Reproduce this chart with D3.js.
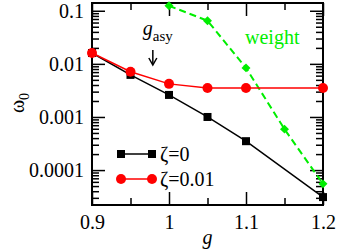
<!DOCTYPE html>
<html>
<head>
<meta charset="utf-8">
<script src="https://cdn.jsdelivr.net/npm/d3@7"></script>
<style>
  html, body { margin: 0; padding: 0; background: #fff; }
</style>
</head>
<body>
<div id="chart"></div>
<script>
// data
const gZeta0 = [0.9, 0.95, 1.0, 1.05, 1.1, 1.2];
const omegaZeta0 = [0.016, 0.0062, 0.0026, 0.001, 0.00035, 0.000031];
const gZeta001 = [0.9, 0.95, 1.0, 1.05, 1.1, 1.2];
const omegaZeta001 = [0.016, 0.0071, 0.0042, 0.0035, 0.0035, 0.0035];
const gWeight = [1.0, 1.05, 1.1, 1.15, 1.2];
const weight = [0.124, 0.065, 0.0084, 0.00059, 0.000055];
const xMajor = [0.9, 1.0, 1.1, 1.2];
const xMinor = [0.95, 1.05, 1.15];
const yMajor = [0.1, 0.01, 0.001, 0.0001];
const yLabels = ['0.1', '0.01', '0.001', '0.0001'];
const gAsy = 0.979;

const serif = "'Times New Roman', Times, 'Liberation Serif', 'Noto Serif', 'DejaVu Serif', 'FreeSerif', serif";
const width = 338, height = 251;
const margin = { top: 3, right: 15, bottom: 46, left: 92 };

const svg = d3.select('#chart').append('svg')
  .attr('width', width)
  .attr('height', height)
  .style('font-family', serif);

const x = d3.scaleLinear()
  .domain([0.9, 1.2])
  .range([margin.left, width - margin.right]);

const y = d3.scaleLog()
  .domain([2.2e-5, 0.14])
  .range([height - margin.bottom, margin.top]);

// minor log ticks 2..9 in every decade inside the domain
const yMinor = [];
for (let e = -5; e <= -1; e++) {
  for (let k = 2; k <= 9; k++) {
    const v = k * Math.pow(10, e);
    if (v > y.domain()[0] && v < y.domain()[1]) yMinor.push(v);
  }
}

function styleAxis(g) {
  g.attr('font-family', null);
  g.selectAll('.domain').remove();
  g.selectAll('.tick line').attr('stroke', '#000').attr('stroke-width', 1.5);
  g.selectAll('.tick text').attr('font-size', 20).attr('fill', '#000');
}

const bottomY = height - margin.bottom;
const rightX = width - margin.right;

// x axis (bottom + mirrored top)
svg.append('g').attr('transform', `translate(0,${bottomY})`)
  .call(d3.axisBottom(x).tickValues(xMajor).tickSizeInner(-13).tickSizeOuter(0).tickPadding(10)
    .tickFormat(d3.format('~g')))
  .call(styleAxis);
svg.append('g').attr('transform', `translate(0,${bottomY})`)
  .call(d3.axisBottom(x).tickValues(xMinor).tickSizeInner(-7).tickSizeOuter(0).tickFormat(''))
  .call(styleAxis);
svg.append('g').attr('transform', `translate(0,${margin.top})`)
  .call(d3.axisTop(x).tickValues(xMajor).tickSizeInner(-13).tickSizeOuter(0).tickFormat(''))
  .call(styleAxis);
svg.append('g').attr('transform', `translate(0,${margin.top})`)
  .call(d3.axisTop(x).tickValues(xMinor).tickSizeInner(-7).tickSizeOuter(0).tickFormat(''))
  .call(styleAxis);

// y axis (left + mirrored right)
svg.append('g').attr('transform', `translate(${margin.left},0)`)
  .call(d3.axisLeft(y).tickValues(yMajor).tickSizeInner(-13).tickSizeOuter(0).tickPadding(8)
    .tickFormat((d, i) => yLabels[i]))
  .call(styleAxis);
svg.append('g').attr('transform', `translate(${margin.left},0)`)
  .call(d3.axisLeft(y).tickValues(yMinor).tickSizeInner(-7).tickSizeOuter(0).tickFormat(''))
  .call(styleAxis);
svg.append('g').attr('transform', `translate(${rightX},0)`)
  .call(d3.axisRight(y).tickValues(yMajor).tickSizeInner(-13).tickSizeOuter(0).tickFormat(''))
  .call(styleAxis);
svg.append('g').attr('transform', `translate(${rightX},0)`)
  .call(d3.axisRight(y).tickValues(yMinor).tickSizeInner(-7).tickSizeOuter(0).tickFormat(''))
  .call(styleAxis);

// frame
svg.append('rect')
  .attr('x', margin.left).attr('y', margin.top)
  .attr('width', rightX - margin.left).attr('height', bottomY - margin.top)
  .attr('fill', 'none').attr('stroke', '#000').attr('stroke-width', 2);

const line = d3.line().x(d => x(d[0])).y(d => y(d[1]));

// weight (green dashed, diamonds)
const weightPts = gWeight.map((g, i) => [g, weight[i]]);
svg.append('path').datum(weightPts)
  .attr('d', line).attr('fill', 'none')
  .attr('stroke', '#00ee00').attr('stroke-width', 2).attr('stroke-dasharray', '7,4');
svg.selectAll('.diamond').data(weightPts).enter().append('path')
  .attr('class', 'diamond')
  .attr('d', d3.symbol(d3.symbolSquare, 40))
  .attr('transform', d => `translate(${x(d[0])},${y(d[1])}) rotate(45)`)
  .attr('fill', '#00ee00');

// zeta = 0 (black squares)
const zeta0Pts = gZeta0.map((g, i) => [g, omegaZeta0[i]]);
svg.append('path').datum(zeta0Pts)
  .attr('d', line).attr('fill', 'none').attr('stroke', '#000').attr('stroke-width', 1.5);
svg.selectAll('.sq').data(zeta0Pts).enter().append('rect')
  .attr('class', 'sq')
  .attr('x', d => x(d[0]) - 4).attr('y', d => y(d[1]) - 4)
  .attr('width', 8).attr('height', 8).attr('fill', '#000');

// zeta = 0.01 (red circles)
const zeta001Pts = gZeta001.map((g, i) => [g, omegaZeta001[i]]);
svg.append('path').datum(zeta001Pts)
  .attr('d', line).attr('fill', 'none').attr('stroke', '#ff0000').attr('stroke-width', 1.5);
svg.selectAll('.dot').data(zeta001Pts).enter().append('circle')
  .attr('class', 'dot')
  .attr('cx', d => x(d[0])).attr('cy', d => y(d[1])).attr('r', 5)
  .attr('fill', '#ff0000');

// legend
const legend = svg.append('g');
const legendItems = [
  { label: 'ζ=0', color: '#000', marker: 'square', y: 154 },
  { label: 'ζ=0.01', color: '#ff0000', marker: 'circle', y: 179 }
];
legendItems.forEach(item => {
  legend.append('line')
    .attr('x1', 121).attr('x2', 152).attr('y1', item.y).attr('y2', item.y)
    .attr('stroke', item.color).attr('stroke-width', 1.5);
  [121, 152].forEach(cx => {
    if (item.marker === 'square') {
      legend.append('rect').attr('x', cx - 4).attr('y', item.y - 4)
        .attr('width', 8).attr('height', 8).attr('fill', item.color);
    } else {
      legend.append('circle').attr('cx', cx).attr('cy', item.y).attr('r', 5)
        .attr('fill', item.color);
    }
  });
  legend.append('text')
    .attr('x', 160).attr('y', item.y + 7)
    .attr('font-size', 20).attr('fill', '#000')
    .text(item.label);
});

// "weight" label
svg.append('text')
  .attr('x', 245).attr('y', 44)
  .attr('font-size', 20).attr('fill', '#00ee00')
  .text('weight');

// g_asy arrow + label
const gx = x(gAsy);
svg.append('text')
  .attr('x', gx - 10).attr('y', 35)
  .attr('font-size', 20).attr('fill', '#000')
  .call(t => {
    t.append('tspan').attr('font-style', 'italic').text('g');
    t.append('tspan').attr('font-size', 15).attr('dy', 6).text('asy');
  });
svg.append('line')
  .attr('x1', gx).attr('x2', gx).attr('y1', 50).attr('y2', 64)
  .attr('stroke', '#000').attr('stroke-width', 1.5);
svg.append('path')
  .attr('d', `M${gx - 4},${58} L${gx},${65} L${gx + 4},${58}`)
  .attr('fill', 'none').attr('stroke', '#000').attr('stroke-width', 1.5);

// axis titles
svg.append('text')
  .attr('transform', 'translate(24,103) rotate(-90)')
  .attr('text-anchor', 'middle')
  .attr('font-size', 20).attr('fill', '#000')
  .call(t => {
    t.append('tspan').text('ω');
    t.append('tspan').attr('font-size', 14).attr('dy', 5).text('0');
  });
svg.append('text')
  .attr('x', x(1.05)).attr('y', 244)
  .attr('text-anchor', 'middle')
  .attr('font-size', 20).attr('font-style', 'italic').attr('fill', '#000')
  .text('g');
</script>
</body>
</html>
